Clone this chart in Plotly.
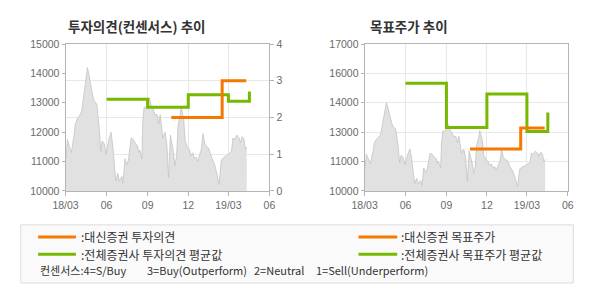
import plotly.graph_objects as go

# ---------------- data ----------------
price_dates = [
    "2018-03-02", "2018-03-05", "2018-03-08", "2018-03-14", "2018-03-20", "2018-03-23",
    "2018-03-27", "2018-04-01", "2018-04-06", "2018-04-10", "2018-04-15", "2018-04-19",
    "2018-04-22", "2018-04-24", "2018-04-29", "2018-05-03", "2018-05-10", "2018-05-15",
    "2018-05-19", "2018-05-22", "2018-05-27", "2018-05-31", "2018-06-06", "2018-06-11",
    "2018-06-15", "2018-06-19", "2018-06-22", "2018-06-26", "2018-06-30", "2018-07-05",
    "2018-07-08", "2018-07-12", "2018-07-16", "2018-07-20", "2018-07-26", "2018-07-31",
    "2018-08-05", "2018-08-09", "2018-08-12", "2018-08-14", "2018-08-16", "2018-08-19",
    "2018-08-21", "2018-08-24", "2018-08-29", "2018-09-02", "2018-09-05", "2018-09-09",
    "2018-09-13", "2018-09-17", "2018-09-22", "2018-09-26", "2018-09-29", "2018-10-05",
    "2018-10-10", "2018-10-14", "2018-10-18", "2018-10-22", "2018-10-29", "2018-11-01",
    "2018-11-05", "2018-11-08", "2018-11-13", "2018-11-15", "2018-11-21", "2018-11-24",
    "2018-11-29", "2018-12-04", "2018-12-07", "2018-12-11", "2018-12-15", "2018-12-19",
    "2018-12-22", "2018-12-26", "2018-12-30", "2019-01-03", "2019-01-07", "2019-01-12",
    "2019-01-16", "2019-01-22", "2019-01-28", "2019-02-03", "2019-02-08", "2019-02-13",
    "2019-02-19", "2019-02-25", "2019-03-03", "2019-03-08", "2019-03-11", "2019-03-14",
    "2019-03-16", "2019-03-20", "2019-03-25", "2019-03-28", "2019-04-01", "2019-04-05",
    "2019-04-08", "2019-04-11",
]
price_values = [
    11100, 11750, 11600, 11300, 11900, 12300,
    12450, 12550, 12700, 13200, 13700, 14200,
    14000, 13800, 13400, 13100, 12950, 12200,
    11350, 11700, 11600, 11250, 11750, 12000,
    11500, 10780, 10350, 10600, 10330, 10500,
    10270, 11100, 10900, 11050, 11800, 11750,
    11600, 11550, 11300, 11400, 11300, 11100,
    12300, 12850, 12850, 12950, 13170, 12900,
    12800, 12600, 12600, 12300, 12600, 11800,
    12000, 11600, 10450, 11900, 11300, 10850,
    11200, 12200, 12600, 12880, 12400, 11700,
    11500, 11400, 11200, 11300, 11100, 11150,
    11000, 11250, 11400, 11950, 11600, 11500,
    11450, 11150, 10950, 10600, 10220, 11050,
    11150, 11200, 11300, 11350, 11800, 11750,
    11800, 11900, 11800, 11650, 11850, 11750,
    11400, 11500,
]

# investment opinion (consensus score 0-4)
daishin_op_dates = ["2018-10-24", "2019-02-15", "2019-04-10"]
daishin_op_values = [2.0, 3.0, 3.0]
avg_op_dates = ["2018-06-01", "2018-09-01", "2018-12-01", "2019-03-01", "2019-04-17"]
avg_op_values = [2.5, 2.28, 2.62, 2.44, 2.71]

# target price
daishin_tp_dates = ["2018-10-24", "2019-02-15", "2019-04-10"]
daishin_tp_values = [12000, 13000, 13000]
avg_tp_dates = ["2018-06-01", "2018-09-01", "2018-12-01", "2019-03-01", "2019-04-17"]
avg_tp_values = [15130, 13030, 14620, 12835, 13735]

x_tick_vals = ["2018-03-01", "2018-06-01", "2018-09-01", "2018-12-01", "2019-03-01", "2019-06-01"]
x_tick_text = ["18/03", "06", "09", "12", "19/03", "06"]
left_y_ticks = [10000, 11000, 12000, 13000, 14000, 15000]
left_y_text = ["10000", "11000", "12000", "13000", "14000", "15000"]
op_ticks = [0, 1, 2, 3, 4]
right_y_ticks = [10000, 11400, 12800, 14200, 15600, 17000]
right_y_text = ["10000", "11000", "13000", "14000", "16000", "17000"]

title_left = "투자의견(컨센서스) 추이"
title_right = "목표주가 추이"
legend_items = [":대신증권 투자의견", ":전체증권사 투자의견 평균값", ":대신증권 목표주가", ":전체증권사 목표주가 평균값"]
consensus_parts = ["컨센서스:4=S/Buy", "3=Buy(Outperform)", "2=Neutral", "1=Sell(Underperform)"]

# ---------------- style ----------------
W, H = 590, 300
ORANGE = "#f77800"
GREEN = "#77b800"
AREA_FILL = "#e1e1e1"
AREA_LINE = "#c4c4c4"
GRID = "#e8e8e8"
AXIS = "#b4b4b4"
TICKFONT = dict(family="Liberation Sans, Arial, sans-serif", size=10.5, color="#6a6a6a")
KFONT = "Noto Sans CJK KR"


def px(x):
    return x / W


def py(y):
    return 1 - y / H


fig = go.Figure()

# left chart
fig.add_trace(go.Scatter(x=price_dates, y=price_values, mode="lines", fill="tozeroy",
                         fillcolor=AREA_FILL, line=dict(color=AREA_LINE, width=0.8),
                         xaxis="x", yaxis="y", hoverinfo="skip"))
fig.add_trace(go.Scatter(x=avg_op_dates, y=avg_op_values, mode="lines", line_shape="hv",
                         line=dict(color=GREEN, width=3), xaxis="x", yaxis="y2"))
fig.add_trace(go.Scatter(x=daishin_op_dates, y=daishin_op_values, mode="lines", line_shape="hv",
                         line=dict(color=ORANGE, width=3), xaxis="x", yaxis="y2"))

# right chart
fig.add_trace(go.Scatter(x=price_dates, y=price_values, mode="lines", fill="tozeroy",
                         fillcolor=AREA_FILL, line=dict(color=AREA_LINE, width=0.8),
                         xaxis="x2", yaxis="y3", hoverinfo="skip"))
fig.add_trace(go.Scatter(x=avg_tp_dates, y=avg_tp_values, mode="lines", line_shape="hv",
                         line=dict(color=GREEN, width=3), xaxis="x2", yaxis="y3"))
fig.add_trace(go.Scatter(x=daishin_tp_dates, y=daishin_tp_values, mode="lines", line_shape="hv",
                         line=dict(color=ORANGE, width=3), xaxis="x2", yaxis="y3"))

xcommon = dict(type="date", range=[x_tick_vals[0], x_tick_vals[-1]], tickmode="array",
               tickvals=x_tick_vals, ticktext=x_tick_text, showgrid=True, gridcolor=GRID,
               gridwidth=1, showline=True, linecolor=AXIS, linewidth=1, mirror=True,
               ticks="outside", ticklen=4, tickcolor=AXIS, tickfont=TICKFONT, zeroline=False)
ydom = [py(192.7), py(39.6)]

fig.update_layout(
    width=W, height=H, margin=dict(l=0, r=0, t=0, b=0),
    paper_bgcolor="white", plot_bgcolor="white", showlegend=False,
    xaxis=dict(domain=[px(54.3), px(265)], anchor="y", **xcommon),
    xaxis2=dict(domain=[px(363.3), px(573.3)], anchor="y3", **xcommon),
    yaxis=dict(domain=ydom, anchor="x", range=[10000, 15000], tickmode="array",
               tickvals=left_y_ticks, ticktext=left_y_text, showgrid=False, showline=True,
               linecolor=AXIS, ticks="outside", ticklen=3, tickcolor=AXIS, tickfont=TICKFONT,
               zeroline=False),
    yaxis2=dict(overlaying="y", anchor="x", side="right", range=[0, 4], tickmode="array",
                tickvals=op_ticks, showgrid=True, gridcolor=GRID, showline=True,
                linecolor=AXIS, ticks="outside", ticklen=4, tickcolor=AXIS,
                tickfont=TICKFONT, zeroline=False),
    yaxis3=dict(domain=ydom, anchor="x2", range=[10000, 17000], tickmode="array",
                tickvals=right_y_ticks, ticktext=right_y_text, showgrid=True, gridcolor=GRID,
                showline=True, linecolor=AXIS, mirror=True, ticks="outside", ticklen=3,
                tickcolor=AXIS, tickfont=TICKFONT, zeroline=False),
)

annotations = [
    dict(text="<b>" + title_left + "</b>", x=px(55), y=py(20.5), xanchor="left", yanchor="middle",
         font=dict(family=KFONT, size=13.5, color="#333333")),
    dict(text="<b>" + title_right + "</b>", x=px(366.5), y=py(20.5), xanchor="left", yanchor="middle",
         font=dict(family=KFONT, size=13.5, color="#333333")),
]
legend_pos = [(68, 240.5), (68, 258.5), (399, 240.5), (399, 258.5)]
for t, (lx, ly) in zip(legend_items, legend_pos):
    annotations.append(dict(text=t, x=px(lx), y=py(ly), xanchor="left", yanchor="middle",
                            font=dict(family=KFONT, size=12, color="#333333")))
cons_x = [25.5, 136.5, 247, 310.5]
for t, cx in zip(consensus_parts, cons_x):
    annotations.append(dict(text=t, x=px(cx), y=py(275.5), xanchor="left", yanchor="middle",
                            font=dict(family=KFONT, size=11, color="#333333")))
for a in annotations:
    a.update(xref="paper", yref="paper", showarrow=False)
fig.update_layout(annotations=annotations)

shapes = [dict(type="rect", xref="paper", yref="paper", x0=px(8), x1=px(579), y0=py(288.5), y1=py(228),
               line=dict(color="#dcdcdc", width=1), fillcolor="#fafafa", layer="below")]
sample_rows = [(26, 65, 240.5, ORANGE), (26, 65, 258.5, GREEN), (357, 397, 240.5, ORANGE), (357, 397, 258.5, GREEN)]
for x0, x1, yy, c in sample_rows:
    shapes.append(dict(type="line", xref="paper", yref="paper", x0=px(x0), x1=px(x1), y0=py(yy), y1=py(yy),
                       line=dict(color=c, width=3)))
fig.update_layout(shapes=shapes)

fig.write_html("out.html")
